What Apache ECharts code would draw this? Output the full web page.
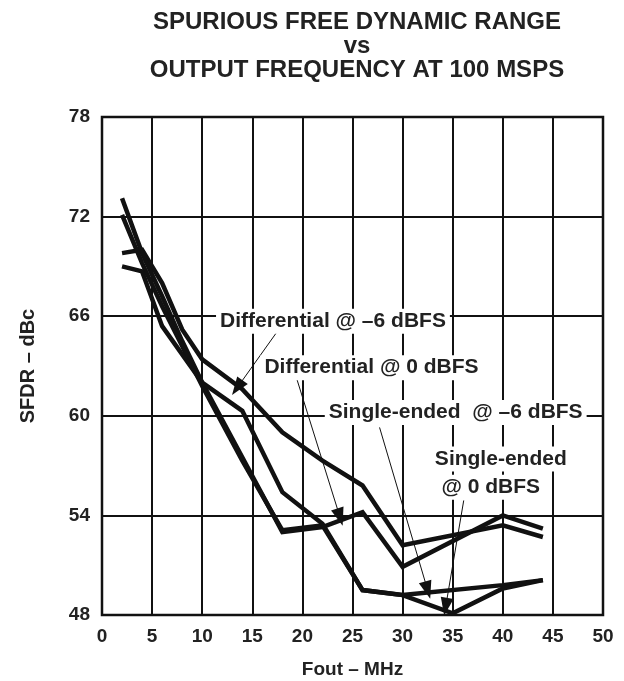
<!DOCTYPE html>
<html>
<head>
<meta charset="utf-8">
<script src="https://cdn.jsdelivr.net/npm/echarts@6/dist/echarts.min.js"></script>
<style>
html,body{margin:0;padding:0;background:#fff;}
#c{width:624px;height:681px;}
</style>
</head>
<body>
<div id="c"></div>
<script>
// ---- data ----
const titleLines = ['SPURIOUS FREE DYNAMIC RANGE', 'vs', 'OUTPUT FREQUENCY AT 100 MSPS'];
const xTicks = [0, 5, 10, 15, 20, 25, 30, 35, 40, 45, 50];
const yTicks = [48, 54, 60, 66, 72, 78];

const seriesNames = ['Differential @ \u20136 dBFS', 'Differential @ 0 dBFS', 'Single-ended  @ \u20136 dBFS', 'Single-ended @ 0 dBFS'];

const diffM6Freq = [2, 4, 6, 8, 10, 14, 18, 22, 26, 30, 40, 44];
const diffM6Sfdr = [69.8, 70.0, 68.0, 65.2, 63.4, 61.6, 59.0, 57.3, 55.8, 52.2, 53.4, 52.7];

const diff0Freq = [2, 4, 6, 8, 10, 14, 18, 22, 26, 30, 40, 44];
const diff0Sfdr = [73.1, 69.8, 67.2, 64.5, 62.0, 57.5, 53.0, 53.3, 54.2, 50.9, 54.0, 53.2];

const seM6Freq = [2, 4, 6, 8, 10, 14, 18, 22, 26, 30, 40, 44];
const seM6Sfdr = [72.1, 69.2, 66.6, 64.2, 61.8, 57.3, 53.1, 53.4, 49.5, 49.2, 49.8, 50.1];

const se0Freq = [2, 4, 6, 10, 14, 18, 22, 26, 30, 35, 40, 44];
const se0Sfdr = [69.0, 68.7, 65.4, 62.0, 60.3, 55.4, 53.5, 49.5, 49.2, 48.1, 49.6, 50.1];

// annotation label anchors (data coords) and arrows (data coords: from -> to)
const labelTexts = ['Differential @ \u20136 dBFS', 'Differential @ 0 dBFS', 'Single-ended  @ \u20136 dBFS', 'Single-ended', '@ 0 dBFS'];
const labelX = [23.05, 26.9, 35.3, 39.8, 38.8];
const labelY = [65.7, 62.9, 60.2, 57.4, 55.7];
const arrowFromX = [17.4, 19.4, 27.7, 36.1];
const arrowFromY = [65.0, 62.3, 59.3, 54.9];
const arrowToX = [13.5, 23.75, 32.5, 34.3];
const arrowToY = [61.7, 53.9, 49.5, 48.5];

// ---- chart ----
const FONT = '"Liberation Sans", Arial, Helvetica, sans-serif';
function pairs(xs, ys) { return xs.map((x, i) => [x, ys[i]]); }

const chart = echarts.init(document.getElementById('c'), null, {renderer: 'canvas'});

const lineStyle = {color: '#111', width: 4.5, join: 'miter'};
const allData = [pairs(diffM6Freq, diffM6Sfdr), pairs(diff0Freq, diff0Sfdr), pairs(seM6Freq, seM6Sfdr), pairs(se0Freq, se0Sfdr)];

const series = allData.map((d, i) => ({
  name: seriesNames[i],
  type: 'line',
  data: d,
  showSymbol: false,
  symbol: 'none',
  lineStyle: lineStyle,
  z: 3,
  animation: false
}));

series.push({
  name: 'arrows',
  type: 'line',
  data: [],
  animation: false,
  markLine: {
    silent: true,
    animation: false,
    symbol: ['none', 'triangle'],
    symbolSize: [13, 18],
    label: {show: false},
    lineStyle: {color: '#111', width: 1, type: 'solid'},
    data: arrowFromX.map((x, i) => [
      {coord: [x, arrowFromY[i]], symbol: 'none'},
      {coord: [arrowToX[i], arrowToY[i]]}
    ])
  },
  z: 4
});

chart.setOption({
  backgroundColor: '#fff',
  animation: false,
  grid: {left: 102, right: 21, top: 117, bottom: 66, containLabel: false, outerBoundsMode: 'none',
    show: true, borderColor: '#111', borderWidth: 2.5, backgroundColor: 'transparent'},
  xAxis: {
    type: 'value', min: 0, max: 50, interval: 5,
    name: 'Fout \u2013 MHz', nameLocation: 'middle', nameGap: 45,
    nameTextStyle: {fontFamily: FONT, fontWeight: 'bold', fontSize: 19, color: '#222'},
    axisLine: {show: false}, axisTick: {show: false},
    axisLabel: {fontFamily: FONT, fontWeight: 'bold', fontSize: 19, color: '#222', margin: 12,
      formatter: v => (xTicks.indexOf(v) >= 0 ? String(v) : '')},
    splitLine: {show: true, lineStyle: {color: '#111', width: 2}}
  },
  yAxis: {
    type: 'value', min: 48, max: 78, interval: 6,
    name: 'SFDR \u2013 dBc', nameLocation: 'middle', nameGap: 64, nameRotate: 90,
    nameTextStyle: {fontFamily: FONT, fontWeight: 'bold', fontSize: 20, color: '#222'},
    axisLine: {show: false}, axisTick: {show: false},
    axisLabel: {fontFamily: FONT, fontWeight: 'bold', fontSize: 19, color: '#222', margin: 12,
      formatter: v => (yTicks.indexOf(v) >= 0 ? String(v) : '')},
    splitLine: {show: true, lineStyle: {color: '#111', width: 2}}
  },
  series: series
});

// annotations placed through the chart's own scales
const graphics = [];
titleLines.forEach((t, i) => {
  graphics.push({
    type: 'text', x: 357, y: 22 + i * 24, z: 10,
    style: {text: t, fill: '#222', font: 'bold 24px ' + FONT, textAlign: 'center', textVerticalAlign: 'middle'}
  });
});
labelTexts.forEach((t, i) => {
  const p = chart.convertToPixel({gridIndex: 0}, [labelX[i], labelY[i]]);
  graphics.push({
    type: 'text', x: p[0], y: p[1], z: 10,
    style: {text: t, fill: '#222', font: 'bold 21px ' + FONT, textAlign: 'center', textVerticalAlign: 'middle',
      backgroundColor: '#fff', padding: [2, 4, 2, 4]}
  });
});
chart.setOption({graphic: {elements: graphics}});
</script>
</body>
</html>
